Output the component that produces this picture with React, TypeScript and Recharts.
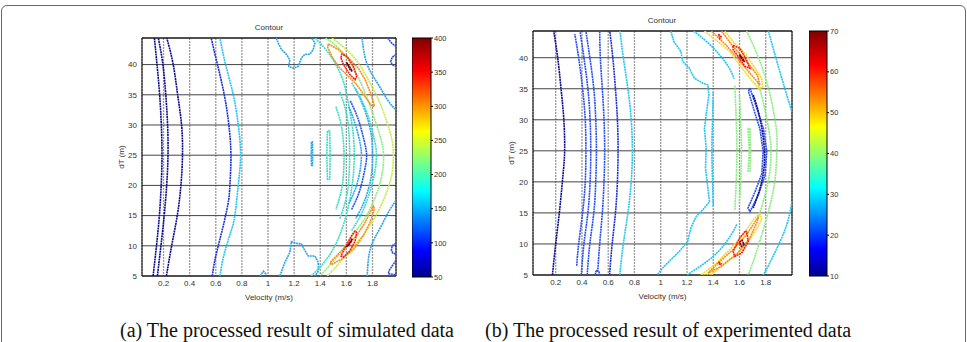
import { Bar, BarChart, CartesianGrid, ReferenceArea, Scatter, ScatterChart, XAxis, YAxis } from "recharts";

const FONT = "'Liberation Sans', Arial, Helvetica, sans-serif";

// axis ticks
const velocityTicks = [0.2, 0.4, 0.6, 0.8, 1, 1.2, 1.4, 1.6, 1.8];
const dtTicks = [5, 10, 15, 20, 25, 30, 35, 40];
const simScaleTicks = [50, 100, 150, 200, 250, 300, 350, 400];
const expScaleTicks = [10, 20, 30, 40, 50, 60, 70];
const simScaleRange: [number, number] = [50, 400];
const expScaleRange: [number, number] = [10, 70];

// (a) simulated data, contour paths as [velocity, dT]
const simNavyA = [[0.12, 5], [0.146, 10], [0.168, 15], [0.182, 20], [0.188, 25], [0.183, 30], [0.17, 35], [0.15, 40], [0.13, 44.4]];
const simNavyB = [[0.153, 5], [0.18, 10], [0.205, 15], [0.224, 20], [0.234, 25], [0.231, 30], [0.217, 35], [0.195, 40], [0.16, 44.4]];
const simNavyC = [[0.222, 5], [0.262, 10], [0.305, 15], [0.333, 20], [0.345, 25], [0.338, 30], [0.308, 35], [0.274, 40], [0.225, 44.4]];
const simBlue = [[0.573, 5], [0.592, 7.5], [0.619, 10], [0.648, 12.5], [0.675, 15], [0.698, 17.5], [0.708, 20], [0.716, 25], [0.7, 30], [0.665, 35], [0.613, 40], [0.585, 42.5], [0.565, 44.4]];
const simCyan = [[0.632, 5], [0.652, 7.5], [0.682, 10], [0.718, 12.5], [0.746, 15], [0.772, 20], [0.79, 25], [0.772, 30], [0.734, 35], [0.675, 40], [0.632, 44.4]];
const simBlobTop = [[1.064, 44.4], [1.077, 43.6], [1.103, 42.5], [1.141, 41.7], [1.167, 40.8], [1.159, 39.7], [1.192, 39.4], [1.231, 39.7], [1.256, 41.1], [1.282, 41.7], [1.321, 41.7], [1.346, 42.5], [1.359, 43.6], [1.333, 44.4]];
const simBlobBottom = [[1.09, 5], [1.128, 7.2], [1.167, 8.9], [1.179, 10.7], [1.218, 10.4], [1.256, 10.3], [1.277, 9.4], [1.308, 8.3], [1.359, 8.3], [1.385, 7.2], [1.385, 5.8], [1.359, 5]];
const simSpeck = [[0.94, 5], [0.965, 5.8], [0.99, 5.2]];
const simCyanBar = [[1.333, 27.2], [1.331, 25], [1.333, 23.3], [1.34, 23.3], [1.342, 25], [1.34, 27.2], [1.333, 27.2]];
const simGreenBar = [[1.455, 29], [1.45, 25], [1.455, 21], [1.472, 21], [1.476, 25], [1.472, 29], [1.455, 29]];
const simYellow = [[1.49, 44.4], [1.6, 42.5], [1.7, 40], [1.78, 37], [1.85, 34], [1.91, 30.5], [1.95, 27.5], [1.96, 25], [1.95, 22], [1.91, 19], [1.85, 16], [1.77, 13], [1.68, 10.5], [1.58, 8], [1.49, 5.8], [1.45, 5]];
const simGreen = [[1.44, 44.4], [1.55, 42.5], [1.65, 39.5], [1.73, 36], [1.8, 32], [1.86, 28], [1.885, 25], [1.87, 21.5], [1.82, 18], [1.74, 14.5], [1.64, 11.5], [1.54, 8.5], [1.44, 6], [1.4, 5]];
const simTealOuter = [[1.36, 44.4], [1.45, 42.3], [1.52, 40], [1.58, 37], [1.62, 33], [1.65, 29], [1.66, 25], [1.65, 21], [1.62, 17], [1.57, 13], [1.5, 9.5], [1.42, 7], [1.33, 5]];
const simGreenInner = [[1.64, 37], [1.72, 34], [1.78, 30.5], [1.82, 27], [1.83, 25], [1.82, 22.5], [1.78, 19], [1.72, 15.5], [1.64, 12.5]];
const simCyanArcA = [[1.67, 36], [1.74, 32.5], [1.79, 28.5], [1.8, 25], [1.79, 21.5], [1.74, 17.5], [1.67, 14.5]];
const simBlueArc = [[1.63, 34], [1.69, 31], [1.735, 27.5], [1.755, 25], [1.74, 22.5], [1.7, 19], [1.64, 16]];
const simCyanArcB = [[1.62, 33], [1.67, 30], [1.705, 27], [1.715, 25], [1.705, 22.5], [1.67, 19.5], [1.62, 17]];
const simTealA = [[1.55, 35.5], [1.6, 32], [1.62, 28.5], [1.625, 25], [1.62, 21.5], [1.6, 18], [1.55, 14.5]];
const simTealB = [[1.52, 33], [1.56, 30], [1.578, 27], [1.582, 25], [1.578, 22], [1.56, 19], [1.52, 16]];
const simOuterTop = [[1.72, 44.4], [1.74, 41.5], [1.78, 39], [1.85, 36.5], [1.92, 34], [1.98, 32.5]];
const simOuterBottom = [[1.98, 17.5], [1.92, 15.5], [1.86, 13], [1.8, 10.5], [1.77, 8], [1.76, 5]];
const simOrangeTop = [[1.462, 43.4], [1.538, 42.5], [1.615, 41.1], [1.692, 39.4], [1.744, 37.5], [1.79, 35], [1.815, 33.1], [1.795, 33.1], [1.744, 34.7], [1.679, 36.7], [1.603, 38.3], [1.538, 39.7], [1.487, 41.4], [1.456, 42.9], [1.462, 43.4]];
const simRedTop = [[1.559, 41.1], [1.564, 41.7], [1.603, 41.4], [1.654, 39.7], [1.679, 38.1], [1.667, 37.5], [1.628, 38.3], [1.577, 40], [1.559, 41.1]];
const simCoreTop = [[1.6, 40.4], [1.625, 39.6], [1.645, 38.9], [1.63, 39.1], [1.6, 40.4]];
const simOrangeBottom = [[1.808, 16.7], [1.744, 13.9], [1.679, 11.7], [1.59, 9.7], [1.513, 8.1], [1.474, 7.2], [1.487, 6.9], [1.564, 7.8], [1.654, 9.4], [1.731, 11.7], [1.782, 13.9], [1.815, 16.1], [1.808, 16.7]];
const simRedBottom = [[1.667, 12.5], [1.641, 11.7], [1.59, 9.7], [1.559, 8.3], [1.577, 8.1], [1.628, 9.2], [1.667, 10.8], [1.679, 12.2], [1.667, 12.5]];
const simCoreBottom = [[1.6, 9.8], [1.62, 10.3], [1.645, 11.2], [1.63, 10.4], [1.6, 9.8]];
const simEdgeA = [[1.915, 44.4], [1.949, 43.5], [1.98, 43]];
const simEdgeB = [[1.98, 41.7], [1.95, 41.2], [1.94, 40.5], [1.95, 40], [1.98, 39.7]];
const simEdgeC = [[1.98, 10.4], [1.95, 10], [1.945, 9.3], [1.955, 8.8], [1.98, 8.6]];
const simEdgeD = [[1.98, 7.6], [1.93, 6], [1.92, 5.4], [1.98, 5.2]];

// (b) experimented data
const expNavy = [[0.175, 5], [0.2, 10], [0.23, 15.5], [0.255, 21], [0.268, 25], [0.262, 30], [0.243, 34.5], [0.218, 39.5], [0.185, 44.3]];
const expBlueA = [[0.36, 6.5], [0.375, 10], [0.405, 15], [0.425, 20], [0.43, 25], [0.425, 30], [0.405, 35], [0.375, 40], [0.345, 43.8]];
const expBlueB = [[0.395, 5], [0.415, 10], [0.445, 15], [0.462, 20], [0.467, 25], [0.462, 30], [0.445, 35], [0.415, 40], [0.385, 44.3]];
const expBlueC = [[0.44, 5], [0.46, 10], [0.49, 15], [0.505, 20], [0.51, 25], [0.505, 30], [0.49, 35], [0.46, 40], [0.43, 44.3]];
const expBlueD = [[0.52, 5.5], [0.535, 10], [0.555, 15], [0.568, 20], [0.573, 25], [0.568, 30], [0.555, 35], [0.54, 40], [0.535, 44.3]];
const expBlueE = [[0.61, 5], [0.63, 10], [0.655, 15], [0.67, 20], [0.675, 25], [0.67, 30], [0.655, 35], [0.635, 40], [0.612, 44.3]];
const expCyanLeft = [[0.688, 5], [0.715, 10], [0.75, 15], [0.775, 20], [0.784, 25], [0.775, 30], [0.75, 35], [0.715, 40], [0.69, 44.3]];
const expSpeck = [[0.5, 5], [0.51, 5.8], [0.53, 5.5], [0.535, 5]];
const expCyanBig = [[1.077, 44.3], [1.1, 42.6], [1.154, 41], [1.167, 39.4], [1.218, 38.3], [1.256, 36.7], [1.32, 35.9], [1.359, 35.6], [1.367, 34], [1.346, 30.8], [1.333, 28.6], [1.346, 25.4], [1.341, 22.2], [1.359, 19], [1.372, 16.8], [1.32, 15.5], [1.269, 14.4], [1.23, 12.6], [1.205, 10.4], [1.141, 8.8], [1.064, 7.2], [1.013, 6.1], [0.974, 5]];
const expCyanInner = [[1.4, 34.5], [1.395, 30], [1.39, 25], [1.395, 20], [1.4, 16]];
const expBandTop = [[1.25, 44.3], [1.36, 42.4], [1.45, 40.4], [1.52, 38.4], [1.56, 36.6]];
const expBandBottom = [[1.2, 5], [1.3, 6.4], [1.4, 8], [1.48, 9.8], [1.54, 11.6], [1.58, 13.2]];
const expGreenOuter = [[1.654, 44.3], [1.756, 39.4], [1.833, 34], [1.88, 28.6], [1.885, 25], [1.872, 20.6], [1.833, 16.3], [1.77, 11.5], [1.705, 7.2], [1.667, 5]];
const expGreenMid = [[1.74, 36], [1.79, 32], [1.83, 27.5], [1.84, 25], [1.83, 21.5], [1.79, 17.5], [1.74, 14]];
const expGreenA = [[1.565, 35.5], [1.575, 30], [1.58, 25], [1.575, 20], [1.565, 15.5]];
const expGreenB = [[1.6, 34], [1.61, 29], [1.615, 25], [1.61, 21], [1.6, 16.5]];
const expGreenLoop = [[1.665, 28.6], [1.675, 25], [1.665, 21.7], [1.68, 21.7], [1.685, 25], [1.68, 28.6], [1.665, 28.6]];
const expBlueArc = [[1.68, 35.1], [1.731, 31.9], [1.782, 28.6], [1.808, 24.9], [1.795, 21.1], [1.744, 17.9], [1.68, 15.2], [1.665, 15.8], [1.72, 18.5], [1.77, 21.3], [1.78, 24.9], [1.757, 28.4], [1.71, 31.6], [1.668, 34.6], [1.68, 35.1]];
const expNavyArc = [[1.705, 34], [1.756, 30.2], [1.79, 24.9], [1.77, 20.1], [1.705, 15.8]];
const expCyanRightTop = [[1.82, 44.3], [1.885, 39.4], [1.96, 34], [2.0, 31.3]];
const expCyanRightBottom = [[2.0, 16.8], [1.96, 13.1], [1.885, 9.3], [1.81, 6.1], [1.78, 5]];
const expYellowTop = [[1.333, 44.3], [1.423, 42.8], [1.526, 41], [1.603, 38.8], [1.679, 36.7], [1.744, 35.1], [1.777, 35.2], [1.769, 36.7], [1.718, 38.3], [1.654, 40.4], [1.564, 42.3], [1.487, 44.3]];
const expOrangeTop = [[1.385, 44.3], [1.5, 42], [1.603, 39.4], [1.692, 37.2], [1.756, 35.6], [1.736, 37.2], [1.654, 39.4], [1.551, 41.8], [1.462, 44.3]];
const expRedTop = [[1.551, 42], [1.603, 41.5], [1.654, 39.6], [1.679, 38.3], [1.641, 38.6], [1.59, 40.2], [1.551, 41.3], [1.551, 42]];
const expRedTopSpeck = [[1.44, 43.8], [1.46, 43.4], [1.45, 43.1], [1.44, 43.8]];
const expCoreTop = [[1.6, 40.5], [1.625, 39.8], [1.64, 39.3], [1.62, 39.7], [1.6, 40.5]];
const expYellowBottom = [[1.756, 15], [1.769, 13.9], [1.705, 11.5], [1.603, 8.8], [1.474, 6.7], [1.385, 5], [1.308, 5], [1.423, 6.9], [1.526, 9.1], [1.628, 11.5], [1.705, 13.9], [1.756, 15]];
const expOrangeBottom = [[1.744, 14.4], [1.736, 13.6], [1.679, 11], [1.577, 8.3], [1.462, 6.4], [1.359, 5.3], [1.436, 6.9], [1.551, 9.1], [1.654, 11.5], [1.744, 14.4]];
const expRedBottom = [[1.641, 12], [1.654, 12], [1.667, 10.4], [1.615, 8.5], [1.564, 8], [1.551, 8.8], [1.603, 11], [1.641, 12]];
const expRedBottomSpeck = [[1.44, 7.1], [1.46, 6.8], [1.45, 6.6], [1.44, 7.1]];
const expCoreBottom = [[1.6, 10.3], [1.62, 10.6], [1.635, 9.9], [1.615, 9.6], [1.6, 10.3]];

const NAVY = "#0c0c8c";
const DEEP_BLUE = "#1e32d4";
const BLUE = "#2c50f0";
const LIGHT_BLUE = "#2aa6ee";
const CYAN = "#26c6f0";
const TEAL = "#3edcc6";
const GREEN = "#8eec84";
const YELLOW_GREEN = "#c6ec4a";
const YELLOW = "#f0dc2c";
const ORANGE = "#ff8c10";
const RED = "#ff1a10";
const DARK_RED = "#7c0000";

type Contour = { pts: number[][]; color: string; smooth?: boolean };

const simContours: Contour[] = [
  { pts: simNavyA, color: NAVY, smooth: true },
  { pts: simNavyB, color: NAVY, smooth: true },
  { pts: simNavyC, color: NAVY, smooth: true },
  { pts: simBlue, color: DEEP_BLUE, smooth: true },
  { pts: simCyan, color: CYAN, smooth: true },
  { pts: simBlobTop, color: LIGHT_BLUE },
  { pts: simBlobBottom, color: LIGHT_BLUE },
  { pts: simSpeck, color: LIGHT_BLUE },
  { pts: simCyanBar, color: LIGHT_BLUE },
  { pts: simGreenBar, color: TEAL },
  { pts: simOuterTop, color: LIGHT_BLUE, smooth: true },
  { pts: simOuterBottom, color: LIGHT_BLUE, smooth: true },
  { pts: simTealOuter, color: TEAL, smooth: true },
  { pts: simTealB, color: TEAL, smooth: true },
  { pts: simTealA, color: TEAL, smooth: true },
  { pts: simCyanArcB, color: LIGHT_BLUE, smooth: true },
  { pts: simBlueArc, color: BLUE, smooth: true },
  { pts: simCyanArcA, color: LIGHT_BLUE, smooth: true },
  { pts: simGreenInner, color: TEAL, smooth: true },
  { pts: simGreen, color: GREEN, smooth: true },
  { pts: simYellow, color: YELLOW_GREEN, smooth: true },
  { pts: simOrangeTop, color: ORANGE },
  { pts: simOrangeBottom, color: ORANGE },
  { pts: simRedTop, color: RED },
  { pts: simRedBottom, color: RED },
  { pts: simCoreTop, color: DARK_RED },
  { pts: simCoreBottom, color: DARK_RED },
  { pts: simEdgeA, color: BLUE },
  { pts: simEdgeB, color: BLUE },
  { pts: simEdgeC, color: BLUE },
  { pts: simEdgeD, color: BLUE },
];

const expContours: Contour[] = [
  { pts: expNavy, color: NAVY, smooth: true },
  { pts: expBlueA, color: BLUE, smooth: true },
  { pts: expBlueB, color: BLUE, smooth: true },
  { pts: expBlueC, color: BLUE, smooth: true },
  { pts: expBlueD, color: BLUE, smooth: true },
  { pts: expBlueE, color: DEEP_BLUE, smooth: true },
  { pts: expCyanLeft, color: CYAN, smooth: true },
  { pts: expSpeck, color: BLUE },
  { pts: expCyanBig, color: CYAN },
  { pts: expCyanInner, color: CYAN, smooth: true },
  { pts: expBandTop, color: CYAN, smooth: true },
  { pts: expBandBottom, color: CYAN, smooth: true },
  { pts: expCyanRightTop, color: CYAN, smooth: true },
  { pts: expCyanRightBottom, color: CYAN, smooth: true },
  { pts: expGreenOuter, color: GREEN, smooth: true },
  { pts: expGreenMid, color: GREEN, smooth: true },
  { pts: expGreenA, color: GREEN, smooth: true },
  { pts: expGreenB, color: GREEN, smooth: true },
  { pts: expGreenLoop, color: GREEN },
  { pts: expBlueArc, color: BLUE },
  { pts: expNavyArc, color: NAVY, smooth: true },
  { pts: expYellowTop, color: YELLOW },
  { pts: expYellowBottom, color: YELLOW },
  { pts: expOrangeTop, color: ORANGE },
  { pts: expOrangeBottom, color: ORANGE },
  { pts: expRedTop, color: RED },
  { pts: expRedBottom, color: RED },
  { pts: expRedTopSpeck, color: RED },
  { pts: expRedBottomSpeck, color: RED },
  { pts: expCoreTop, color: DARK_RED },
  { pts: expCoreBottom, color: DARK_RED },
];

const tickStyle = { fontSize: 8, fill: "#333", fontFamily: FONT };

function ContourPanel({
  contours,
  left,
  width,
  yAxisWidth,
  top,
  plotBottom,
  right,
  xDomain,
  yDomain,
  labelOffset,
}: {
  contours: Contour[];
  left: number;
  width: number;
  yAxisWidth: number;
  top: number;
  plotBottom: number;
  right: number;
  xDomain: [number, number];
  yDomain: [number, number];
  labelOffset: number;
}) {
  const height = 310;
  return (
    <div style={{ position: "absolute", left, top: 0 }}>
      <ScatterChart
        width={width}
        height={height}
        margin={{ top, right, bottom: height - plotBottom - 30, left: 0 }}
      >
        <CartesianGrid horizontal={false} stroke="#9a9a9a" strokeWidth={1.3} strokeDasharray="2 1" />
        <CartesianGrid vertical={false} stroke="#444" />
        <XAxis
          type="number"
          dataKey="x"
          domain={xDomain}
          ticks={velocityTicks}
          allowDataOverflow
          height={30}
          tick={tickStyle}
          tickLine={false}
          axisLine={false}
          tickSize={0}
          tickMargin={4}
          label={{ value: "Velocity (m/s)", position: "insideBottom", offset: 6, style: tickStyle }}
        />
        <YAxis
          type="number"
          dataKey="y"
          domain={yDomain}
          ticks={dtTicks}
          allowDataOverflow
          width={yAxisWidth}
          tick={tickStyle}
          tickLine={false}
          axisLine={false}
          tickSize={0}
          tickMargin={5}
          label={{
            value: "dT (m)",
            angle: -90,
            position: "insideLeft",
            offset: labelOffset,
            style: { ...tickStyle, textAnchor: "middle" },
          }}
        />
        {contours.map((c, i) => (
          <Scatter
            key={i}
            data={c.pts.map(([x, y]) => ({ x, y }))}
            fill={c.color}
            line={{ stroke: c.color, strokeWidth: 1.6, strokeDasharray: "2 0.6" }}
            lineType="joint"
            lineJointType={c.smooth ? "natural" : "linear"}
            shape={() => <g />}
            isAnimationActive={false}
          />
        ))}
        <ReferenceArea
          x1={xDomain[0]}
          x2={xDomain[1]}
          y1={yDomain[0]}
          y2={yDomain[1]}
          fill="none"
          stroke="#000"
          strokeWidth={1}
          ifOverflow="visible"
        />
      </ScatterChart>
    </div>
  );
}

function ColorScale({
  left,
  barWidth,
  barTop,
  barBottom,
  range,
  ticks,
}: {
  left: number;
  barWidth: number;
  barTop: number;
  barBottom: number;
  range: [number, number];
  ticks: number[];
}) {
  const height = 300;
  return (
    <div style={{ position: "absolute", left, top: 0 }}>
      <BarChart
        width={barWidth + 40}
        height={height}
        data={[{ name: "scale", range }]}
        margin={{ top: barTop, right: 0, bottom: height - barBottom, left: 0 }}
        barCategoryGap={0}
      >
        <XAxis dataKey="name" hide />
        <YAxis
          type="number"
          orientation="right"
          domain={range}
          ticks={ticks}
          width={40}
          tick={{ ...tickStyle, fontSize: 7.5 }}
          tickLine={{ stroke: "#000" }}
          axisLine={false}
          tickSize={2}
          tickMargin={1}
        />
        <Bar dataKey="range" fill="url(#jetScale)" stroke="#000" strokeWidth={1} isAnimationActive={false} />
      </BarChart>
    </div>
  );
}

const titleStyle = {
  position: "absolute" as const,
  width: 100,
  textAlign: "center" as const,
  fontFamily: FONT,
  fontSize: 8,
  lineHeight: "9px",
  color: "#333",
};

const captionStyle = {
  position: "absolute" as const,
  top: 320,
  fontFamily: "'Liberation Serif', 'Times New Roman', serif",
  fontSize: 20,
  lineHeight: "20px",
  color: "#111",
  whiteSpace: "nowrap" as const,
};

export default function App() {
  return (
    <div
      style={{
        position: "absolute",
        left: 0,
        top: 0,
        width: 967,
        height: 342,
        overflow: "hidden",
        background: "#fff",
      }}
    >
      <svg width={0} height={0} style={{ position: "absolute" }}>
        <defs>
          <linearGradient id="jetScale" x1="0" y1="1" x2="0" y2="0">
            <stop offset="0" stopColor="#00008f" />
            <stop offset="0.11" stopColor="#0000ff" />
            <stop offset="0.36" stopColor="#00ffff" />
            <stop offset="0.61" stopColor="#ffff00" />
            <stop offset="0.86" stopColor="#ff0000" />
            <stop offset="1" stopColor="#800000" />
          </linearGradient>
        </defs>
      </svg>
      <div
        style={{
          position: "absolute",
          left: 1,
          top: 5,
          width: 963,
          height: 400,
          border: "1px solid #666",
          borderRadius: 6,
        }}
      />
      <div style={{ ...titleStyle, left: 219, top: 23 }}>Contour</div>
      <div style={{ ...titleStyle, left: 612, top: 16 }}>Contour</div>
      <ContourPanel
        contours={simContours}
        left={0}
        width={420}
        yAxisWidth={142}
        top={38}
        plotBottom={276}
        right={24}
        xDomain={[0.035, 1.98]}
        yDomain={[5, 44.4]}
        labelOffset={121}
      />
      <ColorScale left={412} barWidth={19} barTop={38} barBottom={277} range={simScaleRange} ticks={simScaleTicks} />
      <ContourPanel
        contours={expContours}
        left={430}
        width={370}
        yAxisWidth={103}
        top={31}
        plotBottom={275}
        right={8}
        xDomain={[0.027, 2.0]}
        yDomain={[5, 44.3]}
        labelOffset={81}
      />
      <ColorScale left={809} barWidth={18} barTop={31} barBottom={276} range={expScaleRange} ticks={expScaleTicks} />
      <div style={{ ...captionStyle, left: 120 }}>(a) The processed result of simulated data</div>
      <div style={{ ...captionStyle, left: 485 }}>(b) The processed result of experimented data</div>
    </div>
  );
}
